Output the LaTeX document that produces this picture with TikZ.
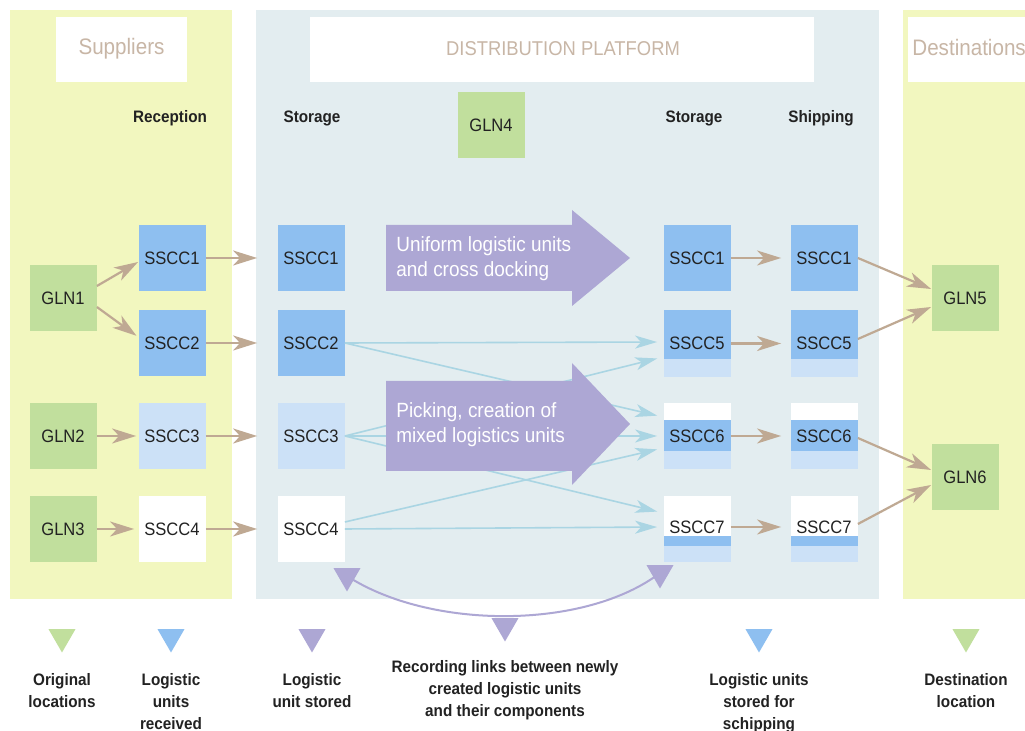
\documentclass[tikz,border=0pt]{standalone}
\usepackage{fontspec}
\setmainfont{Liberation Sans}[FakeStretch=0.92]
\usetikzlibrary{arrows.meta,shapes.geometric}
\definecolor{yel}{HTML}{F2F7BF}
\definecolor{plat}{HTML}{E3EDF0}
\definecolor{bbl}{HTML}{8EBFF0}
\definecolor{lbl}{HTML}{CCE1F7}
\definecolor{grn}{HTML}{C1DF9D}
\definecolor{purp}{HTML}{ADA7D4}
\definecolor{tanc}{HTML}{BFA993}
\definecolor{tant}{HTML}{C8B6A6}
\definecolor{lline}{HTML}{AAD5E3}
\definecolor{txt}{HTML}{222222}
\begin{document}
\begin{tikzpicture}[x=0.5pt,y=-0.5pt,
  box/.style={minimum width=33.5pt,minimum height=33pt,inner sep=0pt,text=txt,font=\fontsize{9}{10}\selectfont},
  bluebox/.style={box,fill=bbl},
  lightbox/.style={box,fill=lbl},
  whitebox/.style={box,fill=white},
  glnbox/.style={box,fill=grn},
  plainbox/.style={box},
  head/.style={text=txt,font=\bfseries\fontsize{8.3}{10}\selectfont,inner sep=0pt,anchor=base},
  title/.style={text=tant,inner sep=0pt,anchor=base},
  legend/.style={text=txt,font=\bfseries\fontsize{8.3}{11}\selectfont,inner sep=0pt,align=center,anchor=north},
  ptext/.style={text=white,font=\fontsize{10.3}{12.5}\selectfont,inner sep=0pt,align=left,anchor=north west},
  tri/.style={regular polygon,regular polygon sides=3,shape border rotate=180,minimum size=15.5pt,inner sep=0pt},
  tanarrow/.style={draw=tanc,line width=1.1pt,-{Stealth[length=12pt,width=7.5pt,inset=3.5pt]}},
  bluearrow/.style={draw=lline,line width=0.8pt,shorten >=3pt,-{Stealth[length=11pt,width=6.5pt,inset=3pt]}}]
\useasboundingbox (0,0) rectangle (1025,731);
\fill[white] (0,0) rectangle (1025,731);
% zones
\fill[yel] (10,10) rectangle (232,599);
\fill[plat] (256,10) rectangle (879,599);
\fill[yel] (903,10) rectangle (1025,599);
% title boxes
\node[fill=white,minimum width=65.5pt,minimum height=32.5pt,inner sep=0pt] (supbox) at (121.5,49.5) {};
\node[fill=white,minimum width=252pt,minimum height=32.5pt,inner sep=0pt] (distbox) at (562,49.5) {};
\fill[white] (908,17) rectangle (1025,82);
\node[title,font=\fontsize{11.2}{12}\selectfont] (sup) at (121.5,55) {Suppliers};
\node[title,font=\fontsize{10}{12}\selectfont] (dist) at (563,56) {DISTRIBUTION PLATFORM};
\node[title,font=\fontsize{11.2}{12}\selectfont,anchor=base west] (dest) at (912,56) {Destinations};
% headings
\node[head] (hrec) at (170,123) {Reception};
\node[head] (hsto1) at (312,123) {Storage};
\node[head] (hsto2) at (694,123) {Storage};
\node[head] (hship) at (821,123) {Shipping};
\node[glnbox] (g4) at (491,125.5) {GLN4};
% composite boxes on the right
\foreach \x in {664,791} {
  \fill[lbl] (\x,310) rectangle ++(67,67);
  \fill[bbl] (\x,310) rectangle ++(67,49);
  \fill[lbl] (\x,403) rectangle ++(67,66);
  \fill[white] (\x,403) rectangle ++(67,17);
  \fill[bbl] (\x,420) rectangle ++(67,31);
  \fill[lbl] (\x,496) rectangle ++(67,66);
  \fill[white] (\x,496) rectangle ++(67,40);
  \fill[bbl] (\x,536) rectangle ++(67,10);
}
% nodes
\node[glnbox] (g1) at (63,298) {GLN1};
\node[glnbox] (g2) at (63,436) {GLN2};
\node[glnbox] (g3) at (63,529) {GLN3};
\node[bluebox] (a1) at (172,258) {SSCC1};
\node[bluebox] (a2) at (172,343) {SSCC2};
\node[lightbox] (a3) at (172,436) {SSCC3};
\node[whitebox] (a4) at (172,529) {SSCC4};
\node[bluebox] (s1) at (311,258) {SSCC1};
\node[bluebox] (s2) at (311,343) {SSCC2};
\node[lightbox] (s3) at (311,436) {SSCC3};
\node[whitebox] (s4) at (311,529) {SSCC4};
\node[bluebox] (r1) at (697,258) {SSCC1};
\node[plainbox] (r5) at (697,343.5) {SSCC5};
\node[plainbox] (r6) at (697,436) {SSCC6};
\node[plainbox] (r7) at (697,527) {SSCC7};
\node[bluebox] (h1) at (824,258) {SSCC1};
\node[plainbox] (h5) at (824,343.5) {SSCC5};
\node[plainbox] (h6) at (824,436) {SSCC6};
\node[plainbox] (h7) at (824,527) {SSCC7};
\node[glnbox] (g5) at (965,298) {GLN5};
\node[glnbox] (g6) at (965,477) {GLN6};
% light blue links
\draw[bluearrow] (s2.east) -- ([yshift=0.75pt]r5.west);
\draw[bluearrow] (s2.east) -- ([yshift=9.5pt]r6.west);
\draw[bluearrow] (s3.east) -- ([yshift=-6.75pt]r5.west);
\draw[bluearrow] (s3.east) -- (r6.west);
\draw[bluearrow] (s3.east) -- ([yshift=7pt]r7.west);
\draw[bluearrow] ([yshift=3.5pt]s4.east) -- ([yshift=-6pt]r6.west);
\draw[bluearrow] (s4.east) -- (r7.west);
% purple big arrows
\fill[purp] (386,225) -- (572,225) -- (572,210) -- (630,258) -- (572,306) -- (572,291) -- (386,291) -- cycle;
\fill[purp] (386,381) -- (572,381) -- (572,363) -- (630,424) -- (572,485) -- (572,471) -- (386,471) -- cycle;
\node[ptext] (p1) at (396,236) {Uniform logistic units\\and cross docking};
\node[ptext] (p2) at (396,402) {Picking, creation of\\mixed logistics units};
% tan arrows
\draw[tanarrow] ([yshift=6pt]g1.east) -- ([yshift=-2pt]a1.west);
\draw[tanarrow,shorten >=1pt] ([yshift=-4.5pt]g1.east) -- ([yshift=3pt]a2.west);
\draw[tanarrow,shorten >=1pt] (g2.east) -- (a3.west);
\draw[tanarrow,shorten >=2pt] (g3.east) -- (a4.west);
\draw[tanarrow] (a1.east) -- ([xshift=-10pt]s1.west);
\draw[tanarrow] (a2.east) -- ([xshift=-10pt]s2.west);
\draw[tanarrow] (a3.east) -- ([xshift=-10pt]s3.west);
\draw[tanarrow] (a4.east) -- ([xshift=-10pt]s4.west);
\draw[tanarrow,shorten >=4.5pt] (r1.east) -- (h1.west);
\draw[tanarrow,shorten >=4.5pt] (r5.east) -- (h5.west);
\draw[tanarrow,shorten >=4.5pt] (r6.east) -- (h6.west);
\draw[tanarrow,shorten >=4.5pt] (r7.east) -- (h7.west);
\draw[tanarrow] (h1.east) -- ([yshift=4.5pt]g5.west);
\draw[tanarrow] ([yshift=2.25pt]h5.east) -- ([yshift=-4.5pt]g5.west);
\draw[tanarrow] ([yshift=-1pt]h6.east) -- ([yshift=3.5pt]g6.west);
\draw[tanarrow] ([yshift=1.5pt]h7.east) -- ([yshift=-4pt]g6.west);
% recording links curve
\node[tri,fill=purp] (tl) at (347,576) {};
\node[tri,fill=purp] (tr) at (660,573) {};
\draw[purp,line width=1pt] (tl.center) .. controls (430,630) and (585,630) .. (tr.center);
\node[tri,fill=purp] (tm) at (505,626) {};
% legend
\node[tri,fill=grn] (l1) at (62,637) {};
\node[tri,fill=bbl] (l2) at (171,637) {};
\node[tri,fill=purp] (l3) at (312,637) {};
\node[tri,fill=bbl] (l5) at (759,637) {};
\node[tri,fill=grn] (l6) at (966,637) {};
\node[legend] (t1) at (62,673) {Original\\locations};
\node[legend] (t2) at (171,673) {Logistic\\units\\received};
\node[legend] (t3) at (312,673) {Logistic\\unit stored};
\node[legend] (t4) at (505,660) {Recording links between newly\\created logistic units\\and their components};
\node[legend] (t5) at (759,673) {Logistic units\\stored for\\schipping};
\node[legend] (t6) at (966,673) {Destination\\location};
\end{tikzpicture}
\end{document}
